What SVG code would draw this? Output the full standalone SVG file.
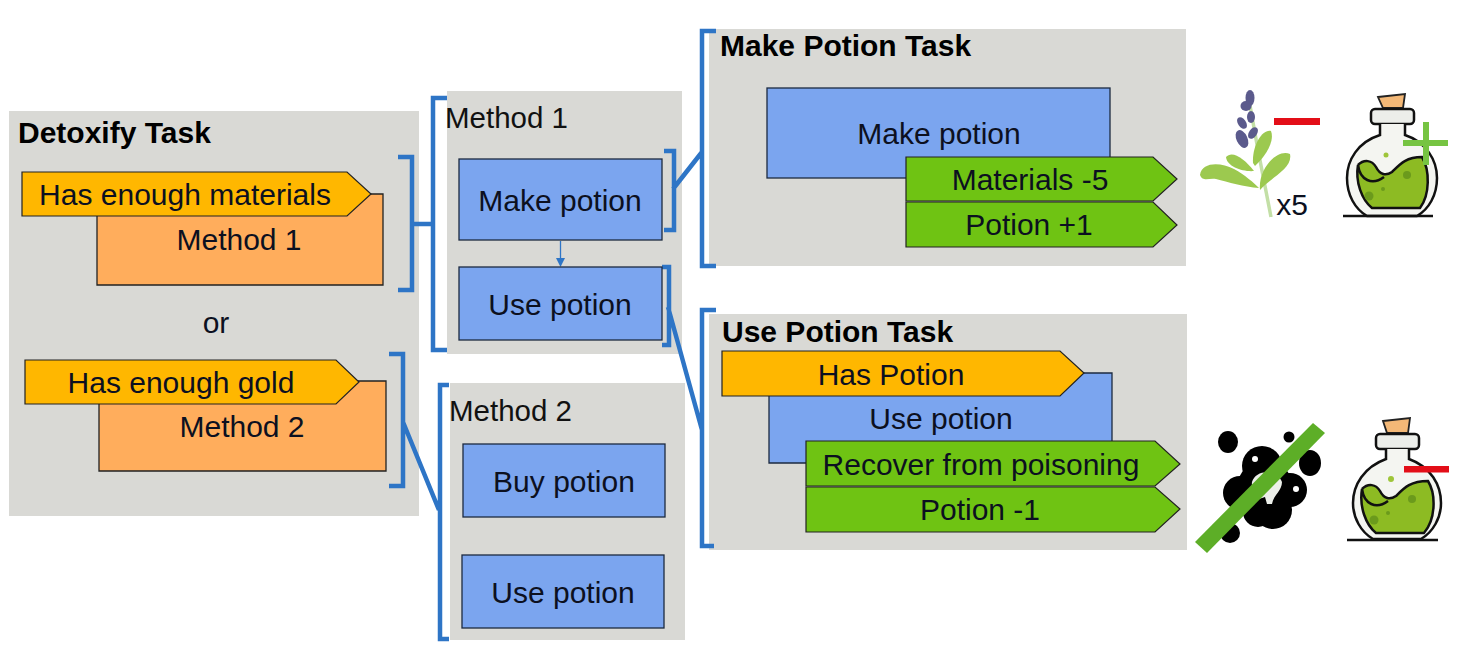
<svg xmlns="http://www.w3.org/2000/svg" width="1480" height="648" viewBox="0 0 1480 648">
<style>
text{font-family:"Liberation Sans",Arial,sans-serif;font-size:30px;fill:#0c1020;text-anchor:middle}
.t{font-weight:700;text-anchor:start;fill:#000}
.m{text-anchor:start;fill:#111;font-size:29.500px}
.p{fill:#d9d9d5}
.b{fill:#7ba5ef;stroke:#1c2a40;stroke-width:1.3}
.o{fill:#ffad5c;stroke:#222;stroke-width:1.3}
.y{fill:#ffb700;stroke:#222;stroke-width:1.2}
.g{fill:#6fc313;stroke:#222;stroke-width:1.2}
.c{fill:none;stroke:#2e75c6;stroke-width:4.5}
.k{fill:none;stroke:#111;stroke-width:2.5}
.lq{fill:#8dbb23}
.sp{fill:#6b9a1c}
.gl{fill:#f4f5f1;stroke:#111;stroke-width:2.5}
.cork{fill:#f3b877;stroke:#222;stroke-width:1.800}
.col{fill:#eceeea;stroke:#111;stroke-width:2.500}
</style>
<rect width="1480" height="648" fill="#fff"/>
<rect class="p" x="9" y="111" width="410" height="405"/>
<rect class="p" x="447" y="91" width="235" height="263"/>
<rect class="p" x="450" y="383" width="235" height="257"/>
<rect class="p" x="709" y="29" width="477" height="237"/>
<rect class="p" x="709" y="314" width="478" height="236"/>

<g id="connectors">
<path class="c" d="M398 157H412V290H398M412 224H432M447 98H433V350H447"/>
<path class="c" d="M389 354H403V486H389M403 422L439 510M449 385H440V639H449"/>
<path class="c" d="M664 151H674V230H664M673 189L702 152M716 31H702V266H716"/>
<path class="c" d="M662 267H669V345H662M668 307L702 430M716 310H702V546H714"/>
<path d="M560.500 241V260" stroke="#2e75c6" stroke-width="1.300"/>
<path d="M556 258H565L560.500 267Z" fill="#2e75c6"/>
</g>

<g id="detoxify-task"><text class="t" x="18" y="143">Detoxify Task</text></g>
<g id="method1-outcome"><path class="o" d="M97 194H383V285H97Z"/><text x="239" y="250">Method 1</text></g>
<g id="has-materials"><path class="y" d="M22 172H347L371 194L347 216H22Z"/><text x="185" y="205">Has enough materials</text></g>
<g id="or"><text x="216" y="333">or</text></g>
<g id="method2-outcome"><path class="o" d="M99 381H386V471H99Z"/><text x="242" y="437">Method 2</text></g>
<g id="has-gold"><path class="y" d="M25 360H336L359 382L336 404H25Z"/><text x="181" y="393">Has enough gold</text></g>

<g id="method-1"><text class="m" x="445" y="128">Method 1</text></g>
<g id="m1-make"><rect class="b" x="459" y="159" width="203" height="81"/><text x="560" y="211">Make potion</text></g>
<g id="m1-use"><rect class="b" x="459" y="267" width="203" height="73"/><text x="560" y="315">Use potion</text></g>
<g id="method-2"><text class="m" x="449" y="421">Method 2</text></g>
<g id="m2-buy"><rect class="b" x="463" y="444" width="202" height="73"/><text x="564" y="492">Buy potion</text></g>
<g id="m2-use"><rect class="b" x="462" y="555" width="202" height="73"/><text x="563" y="603">Use potion</text></g>

<g id="make-potion-task"><text class="t" x="720" y="56">Make Potion Task</text></g>
<g id="make-potion"><rect class="b" x="767" y="88" width="343" height="90"/><text x="939" y="144">Make potion</text></g>
<g id="materials"><path class="g" d="M906 157H1153L1177 179L1153 201H906Z"/><text x="1030" y="190">Materials -5</text></g>
<g id="potion-plus"><path class="g" d="M906 202H1153L1177 225L1153 247H906Z"/><text x="1029" y="235">Potion +1</text></g>

<g id="use-potion-task"><text class="t" x="722" y="342">Use Potion Task</text></g>
<g id="use-potion"><path class="b" d="M769 373H1112V463H769Z"/><text x="941" y="429">Use potion</text></g>
<g id="has-potion"><path class="y" d="M722 351H1060L1084 373L1060 396H722Z"/><text x="891" y="385">Has Potion</text></g>
<g id="recover"><path class="g" d="M806 441H1155L1180 464L1155 486H806Z"/><text x="981" y="475">Recover from poisoning</text></g>
<g id="potion-minus"><path class="g" d="M806 487H1155L1180 509L1155 532H806Z"/><text x="980" y="520">Potion -1</text></g>

<g id="lavender">
<path d="M1249 100L1258 150L1271 217" fill="none" stroke="#c3dfa6" stroke-width="3.500"/>
<g fill="#5b5a8c"><ellipse cx="1250" cy="98" rx="4.500" ry="8"/><ellipse cx="1246" cy="106" rx="5.500" ry="5"/><ellipse cx="1251" cy="117" rx="4" ry="6"/><ellipse cx="1242" cy="123" rx="4" ry="6.500" transform="rotate(-35 1242 123)"/><ellipse cx="1253" cy="133" rx="4" ry="6.500" transform="rotate(35 1253 133)"/><ellipse cx="1242" cy="139" rx="5.500" ry="9.500" transform="rotate(-25 1242 139)"/></g>
<g fill="#9cc94f"><path d="M1200 175C1202 162 1220 162 1234 169C1245 175 1254 183 1259 188C1244 187 1228 182 1216 179C1208 178 1203 182 1200 175Z"/><path d="M1226 157C1232 150 1244 158 1254 171C1243 172 1227 167 1226 157Z"/><path d="M1253 163C1252 146 1262 129 1271 131C1275 142 1265 157 1255 166Z"/><path d="M1260 190C1258 168 1278 148 1290 154C1293 168 1273 176 1260 190Z"/></g>
</g>
<g id="x5"><text x="1292" y="215">x5</text></g>
<g id="minus-1"><rect x="1274" y="118" width="46" height="7" fill="#e30e18"/></g>
<g id="potion-1">
<path class="cork" d="M1378 97L1405 94L1403 108H1383Z"/>
<rect class="col" x="1371" y="109" width="43" height="15" rx="4"/>
<path class="gl" d="M1380 124V135C1358 142 1347 160 1347 178C1347 195 1355 209 1367 216H1417C1429 209 1437 195 1437 178C1437 160 1426 142 1405 135V124"/>
<path class="lq" d="M1358 165C1364 159 1372 160 1376 167C1380 175 1386 176 1392 172C1400 164 1406 157 1422 157C1430 170 1430 195 1420 208H1372C1362 200 1355 182 1358 165Z"/>
<path class="k" d="M1358 165C1364 159 1372 160 1376 167C1380 175 1386 176 1392 172C1400 164 1406 157 1422 157C1430 170 1430 195 1420 208H1372C1362 200 1355 182 1358 165C1360 180 1372 186 1384 177"/>
<path class="k" d="M1343 216H1433"/>
<circle class="sp" cx="1407" cy="175" r="4"/><circle class="sp" cx="1369" cy="196" r="4.500"/><circle class="sp" cx="1383" cy="189" r="2"/><circle cx="1386" cy="155" r="2.500" fill="#9ec53a"/>
<path d="M1403 143H1448M1426 122V165" stroke="#76c442" stroke-width="6" fill="none"/>
</g>
<g id="splat">
<g fill="#000"><ellipse cx="1228" cy="442" rx="10" ry="11"/><circle cx="1289" cy="437" r="5.500"/><ellipse cx="1310" cy="463" rx="11" ry="13"/><circle cx="1262" cy="466" r="20"/><circle cx="1240" cy="493" r="17"/><circle cx="1290" cy="490" r="17"/><circle cx="1273" cy="510" r="19"/><circle cx="1258" cy="512" r="15"/><circle cx="1265" cy="488" r="28"/><circle cx="1230" cy="533" r="10"/></g>
<path d="M1252 482C1256 469 1277 469 1282 482C1282 491 1274 494 1272 504H1267L1265 497L1259 499C1256 493 1251 490 1252 482Z" fill="#ecefe9"/>
<circle cx="1255" cy="459" r="3" fill="#fff"/><circle cx="1296" cy="489" r="3" fill="#fff"/>
<path d="M1195 542L1313 423L1325 433L1207 553Z" fill="#5dae27"/>
</g>
<g id="potion-2">
<path class="cork" d="M1383 421L1410 418L1408 433H1387Z"/>
<rect class="col" x="1376" y="434" width="43" height="15" rx="4"/>
<path class="gl" d="M1386 449V459C1364 467 1353 485 1353 503C1353 518 1361 532 1373 539H1421C1433 532 1441 518 1441 503C1441 485 1431 467 1409 459V449"/>
<path class="lq" d="M1362 489C1368 483 1376 484 1380 491C1384 499 1390 500 1396 496C1404 488 1410 481 1428 481C1436 494 1436 519 1424 533H1376C1366 525 1359 507 1362 489Z"/>
<path class="k" d="M1362 489C1368 483 1376 484 1380 491C1384 499 1390 500 1396 496C1404 488 1410 481 1428 481C1436 494 1436 519 1424 533H1376C1366 525 1359 507 1362 489C1364 504 1376 510 1388 501"/>
<path class="k" d="M1347 540H1438"/>
<circle class="sp" cx="1412" cy="499" r="4"/><circle class="sp" cx="1374" cy="520" r="4.500"/><circle class="sp" cx="1388" cy="513" r="2"/><circle cx="1391" cy="479" r="3" fill="#9ec53a"/>
</g>
<g id="minus-2"><rect x="1404" y="466" width="45" height="6.500" fill="#e30e18"/></g>
</svg>
